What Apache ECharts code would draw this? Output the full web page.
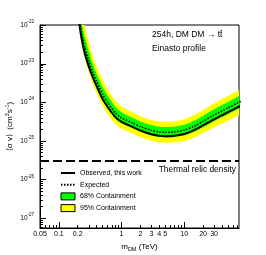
<!DOCTYPE html>
<html>
<head>
<meta charset="utf-8">
<script src="https://cdn.jsdelivr.net/npm/echarts@6/dist/echarts.min.js"></script>
<style>html,body{margin:0;padding:0;background:#fff;}#c{width:266px;height:255px;}</style>
</head>
<body>
<div id="c"></div>
<script>
// ---- data ----
const mass = [0.2,0.21,0.22,0.24,0.26,0.3,0.35,0.4,0.5,0.6,0.8,1,1.5,2,3,4,5,7,10,15,20,30,50,70,80];
const observed = [5e-22,1.4e-22,7e-23,3.2e-23,1.8e-23,8.5e-24,4.3e-24,2.6e-24,1.2e-24,7.5e-25,4.1e-25,3.1e-25,2.3e-25,1.85e-25,1.48e-25,1.35e-25,1.32e-25,1.36e-25,1.5e-25,1.95e-25,2.5e-25,3.6e-25,5.5e-25,7.3e-25,8.1e-25];
const expected = [7.05e-22,1.97e-22,9.9e-23,4.5e-23,2.54e-23,1.2e-23,5.93e-24,3.51e-24,1.62e-24,9.9e-25,5.29e-25,3.91e-25,2.9e-25,2.33e-25,1.86e-25,1.7e-25,1.66e-25,1.71e-25,1.89e-25,2.46e-25,3.18e-25,4.64e-25,7.1e-25,9.42e-25,1.045e-24];
const band95Lo = [3.54e-22,9.91e-23,4.96e-23,2.27e-23,1.27e-23,5.88e-24,2.91e-24,1.72e-24,7.93e-25,4.96e-25,2.71e-25,2.05e-25,1.55e-25,1.25e-25,1.0e-25,9.13e-26,8.92e-26,9.19e-26,9.92e-26,1.26e-25,1.58e-25,2.22e-25,3.32e-25,4.4e-25,4.88e-25];
const band95Hi = [1.99e-21,5.57e-22,2.79e-22,1.6e-22,9e-23,3.6e-23,1.49e-23,8.61e-24,3.79e-24,2.21e-24,1.1e-24,7.78e-25,5.52e-25,4.33e-25,3.46e-25,3.16e-25,3.09e-25,3.18e-25,3.6e-25,4.78e-25,6.28e-25,9.25e-25,1.45e-24,1.96e-24,2.18e-24];
const band68Lo = [5e-22,1.4e-22,7e-23,3.2e-23,1.8e-23,8.41e-24,4.15e-24,2.45e-24,1.13e-24,7.0e-25,3.78e-25,2.83e-25,2.12e-25,1.71e-25,1.37e-25,1.25e-25,1.22e-25,1.26e-25,1.37e-25,1.76e-25,2.24e-25,3.21e-25,4.85e-25,6.43e-25,7.14e-25];
const band68Hi = [1.19e-21,3.32e-22,1.66e-22,8.5e-23,4.8e-23,2.1e-23,9.42e-24,5.49e-24,2.48e-24,1.48e-24,7.63e-25,5.52e-25,3.96e-25,3.18e-25,2.55e-25,2.32e-25,2.27e-25,2.34e-25,2.61e-25,3.43e-25,4.48e-25,6.55e-25,1.01e-24,1.36e-24,1.51e-24];
const thermalRelic = 3e-26;

const xTickValues = [0.05,0.1,0.2,1,2,3,4,5,10,20,30];
const xTickLabels = ['0.05','0.1','0.2','1','2','3','4','5','10','20','30'];
const yTickValues = [1e-27,1e-26,1e-25,1e-24,1e-23,1e-22];
const yTickExps = ['-27','-26','-25','-24','-23','-22'];

const X_MIN = 0.05, X_MAX = 75, Y_MIN = 5.5e-28, Y_MAX = 1e-22;

// tick positions (axis decoration)
const xMinor = [];
[0.01,0.1,1,10].forEach(d => { for (let k=1;k<=9;k++){ const v=k*d; if (v>=X_MIN-1e-12 && v<=X_MAX) xMinor.push(v);} });
// y ticks: [x, value, tick length, label index or -1]
const yTicks = [];
[1e-28,1e-27,1e-26,1e-25,1e-24,1e-23].forEach(d => { for (let k=1;k<=9;k++){ const v=k*d; if (v>=Y_MIN && v<Y_MAX*0.999) yTicks.push([X_MIN, v, k===1 ? 6 : 3, -1]);} });
yTickValues.forEach((v,i)=>{ yTicks.push([X_MIN, v, 6, i]); });

function nearestIdx(arr, v){ let b=0, bd=Infinity; arr.forEach((a,i)=>{ const d=Math.abs(Math.log10(a)-Math.log10(v)); if(d<bd){bd=d;b=i;} }); return b; }

const FONT = 'Liberation Sans, Arial, Helvetica, sans-serif';

function band(lo, hi, color){
  return function(params, api){
    if (params.dataIndex !== 0) return null;
    const pts = [];
    for (let i=0;i<mass.length;i++) pts.push(api.coord([mass[i], hi[i]]));
    for (let i=mass.length-1;i>=0;i--) pts.push(api.coord([mass[i], lo[i]]));
    const cs = params.coordSys;
    return {
      type:'polygon',
      shape:{points:pts, smooth:0.3},
      style:{fill:color, stroke:null},
      clipPath:{type:'rect', shape:{x:cs.x, y:cs.y, width:cs.width, height:cs.height}}
    };
  };
}

const chart = echarts.init(document.getElementById('c'), null, {renderer:'canvas'});
const option = {
  animation:false,
  backgroundColor:'#fff',
  grid:{left:40, top:25, right:27, bottom:27, containLabel:false, outerBoundsMode:'none', show:true, borderColor:'#000', borderWidth:1, backgroundColor:'transparent'},
  xAxis:[{
    type:'log', logBase:10, min:X_MIN, max:X_MAX,
    axisLine:{show:true, lineStyle:{color:'#000', width:1}},
    axisTick:{show:true, inside:true, length:3, customValues:xMinor, lineStyle:{color:'#000', width:1}},
    minorTick:{show:false},
    axisLabel:{customValues:xTickValues, formatter:(v)=>xTickLabels[nearestIdx(xTickValues,v)], fontSize:7, color:'#000', margin:3, fontFamily:FONT, hideOverlap:false},
    splitLine:{show:false},
    name:'{m|m}{sub|DM}{m| (TeV)}', nameLocation:'middle', nameGap:11,
    nameTextStyle:{color:'#000', fontFamily:FONT, rich:{m:{fontSize:8, fontFamily:FONT, color:'#000'}, sub:{fontSize:5.5, fontFamily:FONT, color:'#000', padding:[5,0,0,0]}}}
  },{
    type:'log', logBase:10, min:X_MIN, max:X_MAX, position:'bottom',
    axisLine:{show:false},
    axisTick:{show:true, inside:true, length:6, customValues:[0.1,1,10], lineStyle:{color:'#000', width:1}},
    axisLabel:{show:false}, splitLine:{show:false}
  }],
  yAxis:[{
    type:'log', logBase:10, min:Y_MIN, max:Y_MAX,
    axisLine:{show:true, lineStyle:{color:'#000', width:1}},
    axisTick:{show:false, customValues:yTickValues},
    minorTick:{show:false},
    axisLabel:{show:false, customValues:yTickValues},
    splitLine:{show:false},
    name:'{t|⟨σ v⟩  (cm}{p|3}{t|s}{p|-1}{t|)}', nameLocation:'middle', nameGap:24, nameRotate:90,
    nameTextStyle:{color:'#000', fontFamily:FONT, rich:{t:{fontSize:8, fontFamily:FONT, color:'#000'}, p:{fontSize:5.5, fontFamily:FONT, color:'#000', padding:[0,0,6,0]}}}
  }],
  legend:{
    orient:'vertical', left:60, top:169, itemWidth:14, itemHeight:7, itemGap:3.7, padding:0,
    textStyle:{fontSize:7, fontFamily:FONT, color:'#000', lineHeight:8},
    data:[
      {name:'Observed, this work', itemStyle:{color:'rgba(0,0,0,0)', borderWidth:0, opacity:0}},
      {name:'Expected', itemStyle:{color:'rgba(0,0,0,0)', borderWidth:0, opacity:0}},
      {name:'68% Containment', icon:'rect', itemStyle:{color:'#00ff00', borderColor:'#000', borderWidth:1}},
      {name:'95% Containment', icon:'rect', itemStyle:{color:'#ffff00', borderColor:'#000', borderWidth:1}}
    ]
  },
  series:[
    {type:'custom', name:'95% Containment', renderItem:band(band95Lo, band95Hi, '#ffff00'), data:[[1,1e-25]], itemStyle:{color:'#ffff00'}, z:1, silent:true},
    {type:'custom', name:'68% Containment', renderItem:band(band68Lo, band68Hi, '#00ff00'), data:[[1,1e-25]], itemStyle:{color:'#00ff00'}, z:2, silent:true},
    {type:'line', name:'Thermal relic density', data:[[X_MIN,thermalRelic],[X_MAX,thermalRelic]], symbol:'none', lineStyle:{color:'#000', width:2, type:[9,4]}, z:3, silent:true},
    {type:'line', name:'Expected', data:mass.map((m,i)=>[m,expected[i]]), symbol:'none', smooth:0.25, lineStyle:{color:'#000', width:1.5, type:[1.5,1.5]}, itemStyle:{color:'#000'}, z:4, clip:true},
    {type:'line', name:'Observed, this work', data:mass.map((m,i)=>[m,observed[i]]), symbol:'none', smooth:0.25, lineStyle:{color:'#000', width:2}, itemStyle:{color:'#000'}, z:5, clip:true},
    {type:'custom', name:'yAxisTicks', silent:true, z:6, clip:false,
      data:[[1,1e-25]],
      renderItem:function(params, api){
        if (params.dataIndex !== 0) return null;
        const children = [];
        yTicks.forEach(t => {
          const p = api.coord([t[0], t[1]]);
          const y = Math.round(p[1]) + 0.5;
          children.push({type:'line', shape:{x1:p[0], y1:y, x2:p[0]+t[2], y2:y}, style:{stroke:'#000', lineWidth:1}});
          if (t[3] >= 0) {
            children.push({type:'text', x:p[0]-6, y:p[1], style:{
              text:'{b|10}{s|'+yTickExps[t[3]]+'}', align:'right', verticalAlign:'middle', fill:'#000',
              rich:{b:{fontSize:6.5, fontFamily:FONT, fill:'#000'}, s:{fontSize:4.5, fontFamily:FONT, fill:'#000', padding:[0,0,6,0]}}
            }});
          }
        });
        return {type:'group', children:children};
      }}
  ],
  graphic:[
    {type:'text', x:152, y:35, style:{text:'254h, DM DM → tt̄', fontSize:8.5, fontFamily:FONT, fill:'#000', verticalAlign:'middle'}},
    {type:'text', x:152, y:49, style:{text:'Einasto profile', fontSize:8.5, fontFamily:FONT, fill:'#000', verticalAlign:'middle'}},
    {type:'text', x:236, y:170, style:{text:'Thermal relic density', fontSize:8.4, fontFamily:FONT, fill:'#000', align:'right', verticalAlign:'middle'}}
  ]
};
chart.setOption(option);
</script>
</body>
</html>
